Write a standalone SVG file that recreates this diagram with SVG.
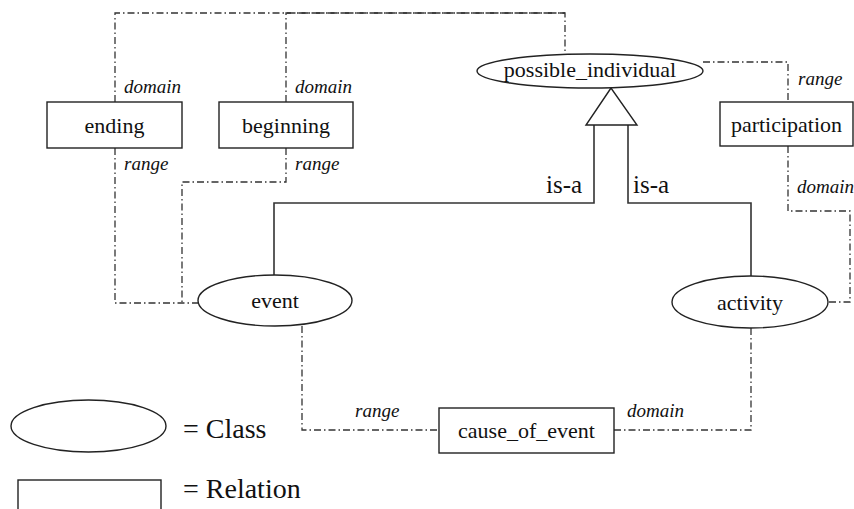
<svg xmlns="http://www.w3.org/2000/svg" width="854" height="509" viewBox="0 0 854 509">
<style>
.node{fill:#fff;stroke:#222;stroke-width:1.4}
.dd{fill:none;stroke:#333;stroke-width:1.3;stroke-dasharray:7,3,1.5,3}
.solid{fill:none;stroke:#333;stroke-width:1.6}
text{font-family:'Liberation Serif','DejaVu Serif',serif;fill:#111}
.t{font-size:22px;text-anchor:middle}
.lbl{font-size:19px;font-style:italic}
.isa{font-size:25px}
.leg{font-size:28px}
</style>
<rect width="854" height="509" fill="#fff"/>
<g id="connectors">
<path class="dd" d="M115,102 V13 H565 V54"/>
<path class="dd" d="M286,102 V13 H565"/>
<path class="dd" d="M115,148 V303 H198"/>
<path class="dd" d="M286,148 V182 H182 V303"/>
<path class="dd" d="M703,62 H788 V102"/>
<path class="dd" d="M788,146 V211 H850 V302 H828"/>
<path class="dd" d="M751,328 V430 H614"/>
<path class="dd" d="M302,326 V430 H439"/>
<path class="solid" d="M274,275 V203 H594 V125"/>
<path class="solid" d="M751,276 V203 H628 V125"/>
<polygon class="node" points="611,88 586,125 637,125"/>
<text class="isa" x="546" y="193">is-a</text>
<text class="isa" x="633" y="193">is-a</text>
<text class="lbl" x="124" y="93">domain</text>
<text class="lbl" x="295" y="93">domain</text>
<text class="lbl" x="124" y="170">range</text>
<text class="lbl" x="295" y="170">range</text>
<text class="lbl" x="798" y="85">range</text>
<text class="lbl" x="797" y="193">domain</text>
<text class="lbl" x="355" y="417">range</text>
<text class="lbl" x="627" y="417">domain</text>
</g>
<g id="ending">
<rect class="node" x="47" y="102" width="135" height="46"/>
<text class="t" x="114.5" y="133">ending</text>
</g>
<g id="beginning">
<rect class="node" x="219" y="102" width="134" height="46"/>
<text class="t" x="286" y="133">beginning</text>
</g>
<g id="possible_individual">
<ellipse class="node" cx="590" cy="71" rx="113" ry="17"/>
<text class="t" x="590" y="77">possible_individual</text>
</g>
<g id="participation">
<rect class="node" x="720" y="102" width="133" height="44"/>
<text class="t" x="786.5" y="132">participation</text>
</g>
<g id="event">
<ellipse class="node" cx="275" cy="300.5" rx="77" ry="25.5"/>
<text class="t" x="275" y="308">event</text>
</g>
<g id="activity">
<ellipse class="node" cx="750" cy="302" rx="78" ry="26"/>
<text class="t" x="750" y="310">activity</text>
</g>
<g id="cause_of_event">
<rect class="node" x="439" y="408" width="175" height="45"/>
<text class="t" x="526.5" y="438">cause_of_event</text>
</g>
<g id="legend">
<ellipse class="node" cx="88.5" cy="426" rx="77.5" ry="26"/>
<text class="leg" x="183" y="438">= Class</text>
<rect class="node" x="18" y="480" width="143" height="40"/>
<text class="leg" x="183" y="498">= Relation</text>
</g>
</svg>
